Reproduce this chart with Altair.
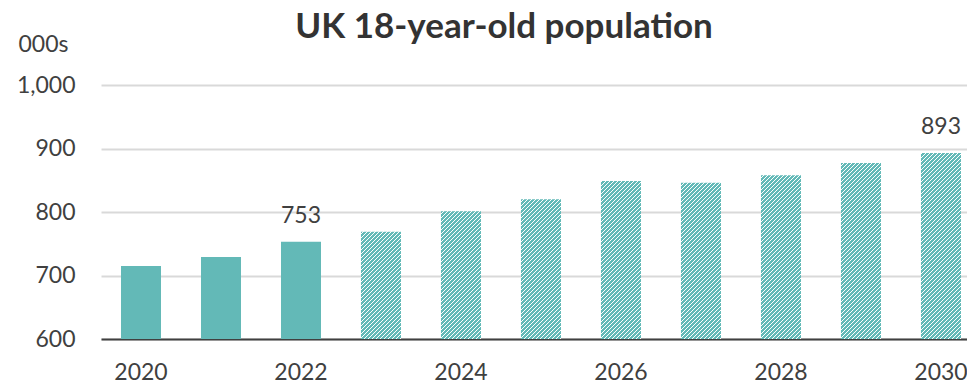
import altair as alt
import pandas as pd

# UK 18-year-old population, thousands (2023 onwards are projections)
years = list(range(2020, 2031))
population = [715, 729, 753, 769, 801, 820, 849, 846, 858, 877, 893]
first_projected = 2023
labelled_years = [2022, 2030]
y_ticks = [600, 700, 800, 900, 1000]
x_ticks = [2020, 2022, 2024, 2026, 2028, 2030]

TEAL = "#63b9b7"
TEXT = "#404040"
FONT = "Lato"

# plot-area geometry
PLOT_W, PLOT_H = 866, 254
Y_MIN, Y_MAX = 600, 1000
STEP = PLOT_W / (len(years) - 0.5 + 2 * 0.1625)
BAR_W = STEP * 0.5


def hatch(value, period=4.0, ink=0.58):
    """Diagonal '/' stripes as a hard-stop linear gradient sized to one bar.

    The stripe phase is anchored at the bar's bottom-left corner so every
    bar shows the same pattern whatever its height.
    """
    w = BAR_W
    h = (value - Y_MIN) * PLOT_H / (Y_MAX - Y_MIN)
    s = w + h
    k = s / (w * w + h * h)
    stops = []
    pos = (h % period) - period
    while pos < s:
        a = max(pos, 0.0) / s
        b = min(max(pos + ink * period, 0.0), s) / s
        c = min(max(pos + period, 0.0), s) / s
        stops += [
            {"offset": round(a, 5), "color": TEAL},
            {"offset": round(b, 5), "color": TEAL},
            {"offset": round(b, 5), "color": "white"},
            {"offset": round(c, 5), "color": "white"},
        ]
        pos += period
    return {"gradient": "linear", "x1": 0, "y1": 0,
            "x2": w * k, "y2": h * k, "stops": stops}


df = pd.DataFrame({"year": years, "population": population})

fill_conditions = [
    {"test": f"datum.year == {y}", "value": hatch(v)}
    for y, v in zip(years, population) if y >= first_projected
]

x_enc = alt.X(
    "year:O",
    scale=alt.Scale(paddingInner=0.5, paddingOuter=0.1625, align=0.769),
    axis=alt.Axis(values=x_ticks, labelAngle=0, title=None, ticks=False,
                  domain=True, domainColor=TEXT, domainWidth=2,
                  labelPadding=22, grid=False),
)
y_enc = alt.Y(
    "population:Q",
    scale=alt.Scale(domain=[Y_MIN, Y_MAX], nice=False, zero=False),
    axis=alt.Axis(values=y_ticks, format=",d", grid=True, gridColor="#d9d9d9",
                  gridWidth=2, domain=False, ticks=False, labelPadding=26,
                  title="000s", titleAngle=0, titleAlign="left",
                  titleBaseline="alphabetic", titleX=-83, titleY=-34,
                  titleFont=FONT, titleFontSize=23, titleFontWeight="normal",
                  titleColor=TEXT),
)

bars = alt.Chart(df).mark_bar().encode(
    x=x_enc,
    y=y_enc,
    y2=alt.datum(Y_MIN),
    fill=alt.FillValue(value=TEAL, condition=fill_conditions),
)

labels = alt.Chart(df).mark_text(
    font=FONT, fontSize=23, color=TEXT, baseline="alphabetic", dy=-19
).encode(
    x=alt.X("year:O"),
    y=alt.Y("population:Q"),
    text=alt.Text("population:Q"),
).transform_filter(alt.FieldOneOfPredicate(field="year", oneOf=labelled_years))

chart = alt.layer(bars, labels).properties(
    width=PLOT_W,
    height=PLOT_H,
    autosize=alt.AutoSizeParams(type="none"),
    padding={"left": 101, "top": 85, "right": 0, "bottom": 44},
    title=alt.TitleParams(
        "UK 18-year-old population", font=FONT, fontSize=35,
        fontWeight="bold", color="#333333", anchor="middle", frame="group",
        dx=-30, dy=40, offset=0, baseline="alphabetic",
    ),
).configure_view(stroke=None).configure_axis(
    labelFont=FONT, labelFontSize=23, labelColor=TEXT
)

chart.save("out.html", embed_options={"renderer": "svg", "actions": False})
